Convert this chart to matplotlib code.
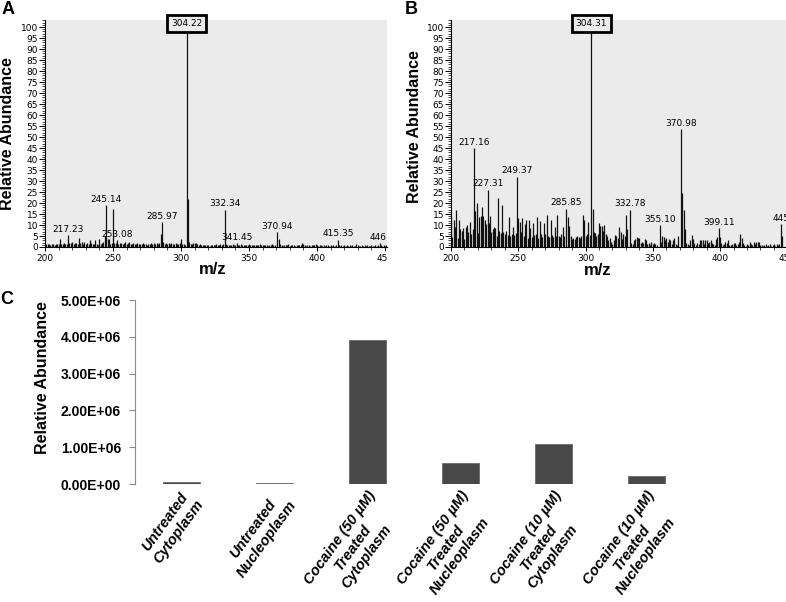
import matplotlib.pyplot as plt
from matplotlib.ticker import MultipleLocator, FixedLocator
from matplotlib.transforms import Bbox

# Panel A - spectrum (m/z, relative abundance)
mz_a = [201, 202, 203, 204, 205, 206, 207, 208, 209, 210, 211, 212, 213, 214, 215, 216,
        217.23, 218, 219, 220, 221, 222, 223, 224, 225, 226, 227, 228, 229, 230, 231, 232,
        233, 234, 235, 236, 237, 238, 239, 240, 241, 242, 243, 244, 245.14, 246, 247, 248,
        249, 250, 251, 252, 253.08, 254, 255, 256, 257, 258, 259, 260, 261, 262, 263, 264,
        265, 266, 267, 268, 269, 270, 271, 272, 273, 274, 275, 276, 277, 278, 279, 280,
        281, 282, 283, 284, 285, 285.97, 287, 288, 289, 290, 291, 292, 293, 294, 295, 296,
        297, 298, 299, 300, 301, 302, 303, 304.22, 305.2, 306, 307, 308, 309, 310, 311, 312,
        313, 314, 315, 316, 317, 318, 319, 320, 321, 322, 323, 324, 325, 326, 327, 328,
        329, 330, 331, 332.34, 333, 334, 335, 336, 337, 338, 339, 340, 341.45, 342, 343, 344,
        345, 346, 347, 348, 349, 350, 351, 352, 353, 354, 355, 356, 357, 358, 359, 360,
        361, 362, 363, 364, 365, 366, 367, 368, 369, 370.94, 371.9, 373, 374, 375, 376, 377,
        378, 379, 380, 381, 382, 383, 384, 385, 386, 387, 388, 389, 390, 391, 392, 393,
        394, 395, 396, 397, 398, 399, 400, 401, 402, 403, 404, 405, 406, 407, 408, 409,
        410, 411, 412, 413, 414, 415.35, 416, 417, 418, 419, 420, 421, 422, 423, 424, 425,
        426, 427, 428, 429, 430, 431, 432, 433, 434, 435, 436, 437, 438, 439, 440, 441,
        442, 443, 444, 445, 446.3, 447, 448, 449, 450, 451]
ab_a = [1.5, 1.2, 1.3, 1.0, 1.4, 1.2, 1.1, 1.5, 1.3, 1.2, 3.5, 1.4, 1.2, 2.0, 1.5, 1.3,
        5.5, 1.6, 1.8, 2.5, 1.5, 1.7, 2.0, 1.3, 4.0, 1.8, 2.2, 1.5, 2.5, 1.4, 2.0, 1.2,
        3.0, 1.6, 1.5, 1.2, 3.2, 1.5, 1.0, 3.5, 1.3, 1.8, 2.2, 5.0, 19.0, 3.5, 3.5, 1.5,
        2.0, 17.3, 1.6, 1.8, 3.2, 1.5, 2.0, 1.7, 1.2, 1.6, 2.4, 1.5, 1.8, 2.2, 1.5, 1.2,
        1.7, 1.4, 1.3, 2.0, 1.2, 1.5, 1.3, 1.6, 1.2, 1.4, 1.1, 1.5, 1.3, 1.8, 1.4, 1.6,
        1.2, 1.7, 1.5, 2.0, 6.0, 11.4, 2.5, 1.5, 2.0, 1.3, 1.6, 1.2, 2.0, 1.4, 1.2, 1.8,
        1.5, 1.3, 2.0, 3.5, 1.5, 1.2, 1.0, 100.0, 21.8, 2.5, 1.5, 1.2, 1.8, 2.0, 2.0, 1.3,
        1.0, 1.2, 0.8, 0.9, 1.0, 0.7, 0.8, 0.9, 0.6, 0.8, 1.0, 0.7, 0.8, 1.2, 0.9, 1.0,
        1.5, 0.8, 1.2, 17.0, 1.5, 0.8, 0.7, 1.0, 0.8, 1.2, 0.9, 1.1, 1.6, 1.0, 0.8, 1.2,
        1.0, 0.9, 0.7, 1.0, 0.8, 1.2, 0.9, 1.0, 0.8, 1.1, 0.7, 0.9, 1.0, 1.5, 0.8, 0.9,
        0.7, 1.0, 0.8, 0.6, 0.9, 0.7, 1.2, 0.8, 1.0, 6.8, 3.5, 1.2, 0.8, 0.6, 0.9, 0.7,
        0.8, 1.5, 0.6, 0.8, 0.7, 0.9, 0.6, 0.8, 0.7, 0.9, 1.0, 2.0, 1.2, 0.8, 0.6, 0.7,
        0.9, 0.6, 0.8, 1.0, 0.7, 1.4, 0.9, 0.6, 0.7, 0.9, 0.6, 0.8, 0.5, 0.7, 0.8, 0.6,
        0.9, 0.5, 0.7, 0.6, 0.8, 3.3, 0.8, 0.6, 0.7, 0.5, 0.8, 0.6, 0.9, 0.5, 0.7, 0.6,
        0.8, 0.5, 0.6, 1.2, 0.7, 0.5, 0.6, 0.8, 0.5, 0.7, 0.6, 1.0, 0.5, 0.6, 0.8, 0.6,
        0.5, 0.7, 0.6, 0.8, 1.6, 0.7, 0.6, 0.8, 0.5, 0.7]
peaks_a = [217.23, 245.14, 253.08, 285.97, 332.34, 341.45, 370.94, 415.35, 446.3]
peak_text_a = ["217.23", "245.14", "253.08", "285.97", "332.34", "341.45", "370.94", "415.35", "446."]
base_a = 304.22

# Panel B - spectrum
mz_b = [200, 201, 202, 203, 204, 205, 206, 207, 208, 209, 210, 211, 212, 213, 214, 215,
        216, 217.16, 218, 219, 220, 221, 222, 223, 224, 225, 226, 227.31, 228, 229, 230, 231,
        232, 233, 234, 235, 236, 237, 238, 239, 240, 241, 242, 243, 244, 245, 246, 247,
        248, 249.37, 250, 251, 252, 253, 254, 255, 256, 257, 258, 259, 260, 261, 262, 263,
        264, 265, 266, 267, 268, 269, 270, 271, 272, 273, 274, 275, 276, 277, 278, 279,
        280, 281, 282, 283, 284, 285.85, 287, 288, 289, 290, 291, 292, 293, 294, 295, 296,
        297, 298, 299, 300, 301, 302, 303, 304.31, 305.3, 306, 307, 308, 309, 310, 311, 312,
        313, 314, 315, 316, 317, 318, 319, 320, 321, 322, 323, 324, 325, 326, 327, 328,
        329, 330, 331, 332.78, 334, 335, 336, 337, 338, 339, 340, 341, 342, 343, 344, 345,
        346, 347, 348, 349, 350, 351, 352, 353, 355.10, 356, 357, 358, 359, 360, 361, 362,
        363, 364, 365, 366, 367, 368, 369, 370.98, 371.98, 373, 374, 375, 376, 377, 378, 379,
        380, 381, 382, 383, 384, 385, 386, 387, 388, 389, 390, 391, 392, 393, 394, 395,
        396, 397, 398, 399.11, 400, 401, 402, 403, 404, 405, 406, 407, 408, 409, 410, 411,
        412, 413, 414, 415, 416, 417, 418, 419, 420, 421, 422, 423, 424, 425, 426, 427,
        428, 429, 430, 431, 432, 433, 434, 435, 436, 437, 438, 439, 440, 441, 442, 443,
        444, 445.2, 446]
ab_b = [14.0, 4.5, 12.5, 9.0, 17.0, 4.0, 12.5, 8.0, 7.5, 8.5, 3.5, 9.0, 10.0, 7.0, 11.5, 6.0,
        8.0, 45.0, 16.5, 20.0, 6.5, 13.5, 14.0, 18.0, 14.0, 12.5, 10.5, 26.0, 11.0, 14.0, 7.0, 8.0,
        9.0, 8.5, 5.0, 22.5, 7.5, 6.5, 19.0, 7.0, 6.0, 7.5, 5.5, 13.5, 5.0, 6.0, 9.0, 5.5,
        6.5, 32.0, 13.0, 11.5, 7.0, 13.0, 5.0, 10.5, 12.5, 4.0, 12.5, 8.5, 4.5, 11.0, 5.5, 6.0,
        13.5, 4.0, 12.0, 6.0, 4.5, 11.0, 6.0, 14.5, 5.0, 4.5, 12.5, 5.5, 4.5, 9.0, 5.0, 14.5,
        5.0, 4.5, 6.0, 9.0, 5.0, 17.5, 13.5, 9.5, 5.0, 3.5, 4.0, 3.5, 4.5, 5.0, 4.5, 4.0,
        5.0, 14.5, 12.5, 5.0, 6.0, 11.5, 5.5, 100.0, 17.5, 7.0, 6.5, 5.0, 6.0, 11.0, 9.5, 9.5,
        7.5, 10.0, 6.0, 5.0, 3.0, 4.0, 2.5, 1.5, 3.0, 5.5, 5.0, 4.0, 9.0, 7.0, 3.5, 6.0,
        5.0, 14.5, 8.0, 17.0, 2.0, 1.5, 3.0, 3.5, 4.5, 4.0, 4.0, 2.0, 2.5, 2.0, 3.5, 3.0,
        1.5, 2.0, 1.0, 2.5, 1.5, 2.0, 1.5, 1.0, 10.0, 2.5, 5.0, 4.5, 3.0, 4.0, 2.5, 3.5,
        3.0, 1.5, 3.0, 4.0, 1.5, 1.0, 5.0, 53.5, 24.5, 17.0, 8.0, 2.0, 1.5, 1.0, 3.0, 5.5,
        3.5, 2.0, 1.0, 2.0, 1.5, 3.0, 3.0, 3.0, 1.5, 3.0, 3.0, 2.0, 2.5, 3.0, 2.0, 1.5,
        1.0, 3.5, 4.5, 8.5, 4.5, 2.0, 1.0, 1.5, 2.5, 2.0, 3.0, 1.0, 0.8, 1.5, 2.0, 2.0,
        1.0, 1.5, 2.5, 6.0, 4.0, 2.0, 1.0, 0.5, 1.5, 0.8, 2.5, 1.5, 1.0, 2.5, 1.5, 2.5,
        2.5, 2.5, 1.0, 1.0, 0.5, 1.0, 1.5, 0.5, 1.0, 1.5, 0.5, 1.0, 1.5, 0.5, 1.5, 1.0,
        1.5, 10.5, 5.0]
peaks_b = [217.16, 227.31, 249.37, 285.85, 332.78, 355.10, 370.98, 399.11, 445.2]
peak_text_b = ["217.16", "227.31", "249.37", "285.85", "332.78", "355.10", "370.98", "399.11", "445"]
base_b = 304.31

# Panel C - bar chart
samples = ["Untreated\nCytoplasm", "Untreated\nNucleoplasm",
           "Cocaine (50 \u00b5M)\nTreated\nCytoplasm", "Cocaine (50 \u00b5M)\nTreated\nNucleoplasm",
           "Cocaine (10 \u00b5M)\nTreated\nCytoplasm", "Cocaine (10 \u00b5M)\nTreated\nNucleoplasm"]
abundance = [0.055e6, 0.04e6, 3.91e6, 0.57e6, 1.08e6, 0.22e6]

W, H = 786, 602
BG = "#ebebeb"


def px_axes(fig, x0, y0, x1, y1):
    # pixel box (top-left origin) -> figure axes
    return fig.add_axes([x0 / W, 1 - y1 / H, (x1 - x0) / W, (y1 - y0) / H])


def spectrum(ax, mz, ab, peaks, texts, base, xmax, ylab_xy, xlab_xy):
    ax.set_facecolor(BG)
    ax.vlines(mz, 0, ab, color="#111111", lw=0.9)
    ax.set_xlim(200, xmax)
    ax.set_ylim(0, 103.2)
    for s in ["top", "right"]:
        ax.spines[s].set_visible(False)
    ax.spines["left"].set_linewidth(0.8)
    ax.spines["bottom"].set_linewidth(0.8)
    ax.yaxis.set_major_locator(MultipleLocator(5))
    ax.yaxis.set_minor_locator(MultipleLocator(1))
    ax.xaxis.set_major_locator(FixedLocator([200, 250, 300, 350, 400, 450]))
    ax.xaxis.set_minor_locator(MultipleLocator(10))
    ax.tick_params(axis="y", which="major", length=4, width=0.7, labelsize=6.5, pad=1)
    ax.tick_params(axis="y", which="minor", length=2.5, width=0.5)
    ax.tick_params(axis="x", which="major", length=3, width=0.7, labelsize=6.5, pad=2)
    ax.tick_params(axis="x", which="minor", length=2, width=0.5)
    for lbl in ax.get_xticklabels() + ax.get_yticklabels():
        lbl.set_fontfamily("DejaVu Sans")
    lookup = dict(zip(mz, ab))
    for m, t in zip(peaks, texts):
        ax.text(m, lookup[m] + 0.6, t, ha="center", va="bottom", fontsize=6.5,
                family="DejaVu Sans", clip_on=True)
    ax.text(base, lookup[base] + 1.8, f"{base:.2f}", ha="center", va="center",
            fontsize=6.5, family="DejaVu Sans", clip_on=False,
            bbox=dict(boxstyle="square,pad=0.45", fc=BG, ec="black", lw=2))
    ax.set_xlabel("m/z", fontsize=12, fontweight="bold", family="Liberation Sans")
    ax.xaxis.set_label_coords(*xlab_xy)
    ax.set_ylabel("Relative Abundance", fontsize=11.5, fontweight="bold",
                  family="Liberation Sans")
    ax.yaxis.set_label_coords(*ylab_xy)


fig = plt.figure(figsize=(W / 100, H / 100), dpi=100)

ax_a = px_axes(fig, 45, 20, 387, 247)
spectrum(ax_a, mz_a, ab_a, peaks_a, peak_text_a, base_a, 451.5,
         (-0.088, 0.50), (0.491, -0.066))
ax_b = px_axes(fig, 451, 20, 790, 247)
spectrum(ax_b, mz_b, ab_b, peaks_b, peak_text_b, base_b, 452,
         (-0.086, 0.53), (0.434, -0.07))

# cut the "450" tick label of A at the panel edge, like the cropped original
cut = Bbox.from_extents(0, 0, 388, H)
for lbl in ax_a.get_xticklabels():
    lbl.set_clip_on(True)
    lbl.set_clip_box(cut)

ax_c = px_axes(fig, 135, 300, 693, 484)
x = range(len(samples))
ax_c.bar(x, abundance, width=0.4, color="#484848", edgecolor="#6a6a6a", linewidth=0.6)
ax_c.set_xlim(-0.5, len(samples) - 0.5)
ax_c.set_ylim(0, 5e6)
ax_c.set_yticks([0, 1e6, 2e6, 3e6, 4e6, 5e6])
ax_c.set_yticklabels(["0.00E+00", "1.00E+06", "2.00E+06", "3.00E+06", "4.00E+06", "5.00E+06"],
                     family=["Liberation Sans Narrow", "Liberation Sans"], fontweight="bold",
                     fontsize=10)
for s in ["top", "right", "bottom"]:
    ax_c.spines[s].set_visible(False)
ax_c.spines["left"].set_color("#8a8a8a")
ax_c.tick_params(axis="y", length=4, color="#8a8a8a", pad=6)
ax_c.set_xticks(list(x))
ax_c.set_xticklabels(samples, rotation=54, ha="right", va="top", rotation_mode="anchor",
                     multialignment="center", fontsize=10.5, fontweight="bold", style="italic",
                     family="Liberation Sans")
ax_c.tick_params(axis="x", length=0, pad=3)
ax_c.set_ylabel("Relative Abundance", fontsize=11.5, fontweight="bold",
                family="Liberation Sans")
ax_c.yaxis.set_label_coords(-0.152, 0.58)

for letter, (px, py) in zip("ABC", [(8, 10), (411, 10), (7, 300)]):
    fig.text(px / W, 1 - py / H, letter, fontsize=13, fontweight="bold",
             family="Liberation Sans", ha="center", va="center")

fig.savefig("out.png", dpi=100)
